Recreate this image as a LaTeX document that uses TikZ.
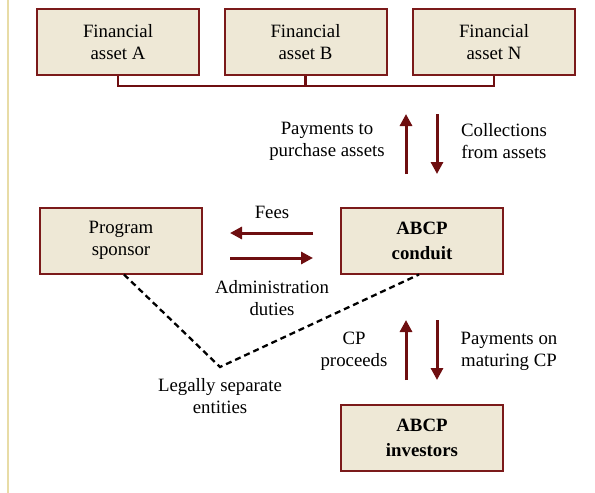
\documentclass[tikz,border=0pt]{standalone}
\usepackage{fontspec}
\setmainfont{Liberation Serif}
\usetikzlibrary{positioning,arrows.meta,calc}

\definecolor{boxfill}{HTML}{EEE8D6}
\definecolor{boxline}{HTML}{7B1A1A}
\definecolor{flow}{HTML}{6E0E10}
\definecolor{margin}{HTML}{E8DCA6}

\begin{document}
\begin{tikzpicture}[
      x=1pt, y=-1pt,
      font=\fontsize{18.8}{22}\selectfont,
      entite/.style={
        draw=boxline,
        fill=boxfill,
        line width=2pt,
        minimum width=162pt,
        minimum height=66pt,
        inner sep=0pt,
        align=center
      },
      gras/.style={
        entite,
        font=\fontsize{18.8}{25}\selectfont\bfseries
      },
      legende/.style={
        align=center
      },
      fleche/.style={
        draw=flow,
        line width=3pt,
        -{Triangle[width=12pt,length=12pt]}
      },
      lien/.style={
        draw=flow,
        line width=2.6pt,
        line join=miter
      },
      pointille/.style={
        draw=black,
        line width=2.3pt,
        dash pattern=on 6pt off 4pt
      }
    ]
    \useasboundingbox (0,0) rectangle (595,493);
    \draw[margin, line width=1.3pt] (8,0) -- (8,493);

    % boxes
    \node[entite] (A) at (118,42) {Financial\\asset A};
    \node[entite] (B) at (305.5,42) {Financial\\asset B};
    \node[entite] (N) at (494,42) {Financial\\asset N};
    \node[entite] (sponsor) at (121,240.5) {Program\\sponsor};
    \node[gras] (conduit) at (422,240.5) {ABCP\\conduit};
    \node[gras] (investors) at (422,438) {ABCP\\investors};

    % bracket under the assets
    \coordinate (rail) at (0,86);
    \draw[lien] (A.south) |- (rail -| N.south) -- (N.south);
    \draw[lien] (B.south) -- (B.south |- rail);

    % arrow ends
    \coordinate (pa1) at (406,174);
    \coordinate (pa2) at (406,114);
    \coordinate (ca1) at (437,114);
    \coordinate (ca2) at (437,174);
    \coordinate (fe1) at (313,233);
    \coordinate (fe2) at (230,233);
    \coordinate (ad1) at (230,258);
    \coordinate (ad2) at (313,258);
    \coordinate (cp1) at (406,380);
    \coordinate (cp2) at (406,320);
    \coordinate (mc1) at (437,320);
    \coordinate (mc2) at (437,380);
    \coordinate (sep) at (220,367);

    \draw[fleche] (pa1) -- (pa2);
    \draw[fleche] (ca1) -- (ca2);
    \draw[fleche] (fe1) -- (fe2);
    \draw[fleche] (ad1) -- (ad2);
    \draw[fleche] (cp1) -- (cp2);
    \draw[fleche] (mc1) -- (mc2);

    \draw[pointille] ([xshift=3pt]sponsor.south) -- (sep) -- ([xshift=-3pt]conduit.south);

    % labels
    \node[legende] (achat) at (327,141.5) {Payments to\\purchase assets};
    \node[legende] (collecte) at (504,141.5) {Collections\\from assets};
    \node[legende] (frais) at (272,212) {Fees};
    \node[legende] (admin) at (272,298) {Administration\\duties};
    \node[legende] (separe) at (220,396.5) {Legally separate\\entities};
    \node[legende] (produit) at (354,351.5) {CP\\proceeds};
    \node[legende] (echeance) at (509,351.5) {Payments on\\maturing CP};
  \end{tikzpicture}
\end{document}
